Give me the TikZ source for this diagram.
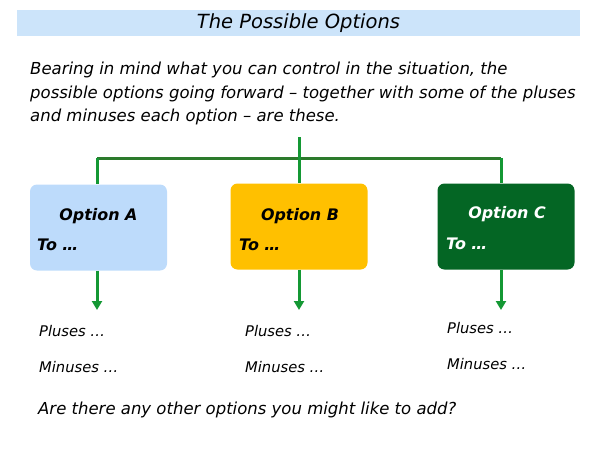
\documentclass[tikz,border=0pt]{standalone}
\usepackage{fontspec}
\setmainfont{DejaVu Sans}
\usetikzlibrary{arrows.meta}
\definecolor{titlebg}{RGB}{204,228,250}
\definecolor{boxA}{RGB}{189,219,251}
\definecolor{boxB}{RGB}{255,192,0}
\definecolor{boxC}{RGB}{4,102,36}
\definecolor{barg}{RGB}{44,122,44}
\definecolor{lineg}{RGB}{20,152,52}
\tikzset{
  optbox/.style={draw=none,rounded corners=7pt,minimum width=137pt,minimum height=86pt,inner sep=0pt},
  opttitle/.style={font=\fontsize{15.9}{19}\selectfont\bfseries\itshape,inner sep=0pt},
  bodytext/.style={font=\fontsize{16.5}{20}\selectfont\itshape,inner sep=0pt,anchor=west},
  smalltext/.style={font=\fontsize{14.7}{18}\selectfont\itshape,inner sep=0pt,anchor=west},
  conn/.style={draw=lineg,line width=3pt},
  arr/.style={draw=lineg,line width=3pt,-{Triangle[length=9pt,width=10pt]}},
}
\begin{document}
\begin{tikzpicture}[x=1pt,y=-1pt]
\useasboundingbox (0,0) rectangle (600,450);
% title
\node[fill=titlebg,minimum width=563pt,minimum height=26pt,inner sep=0pt] (titlebar) at (298.5,23) {};
\node[font=\fontsize{19.5}{23}\selectfont\itshape,inner sep=0pt] (title) at (298.5,23) {The Possible Options};
% paragraph
\node[bodytext] (p1) at (30,70) {Bearing in mind what you can control in the situation, the};
\node[bodytext] (p2) at (30,94) {possible options going forward -- together with some of the pluses};
\node[bodytext] (p3) at (30,117) {and minuses each option -- are these.};
% boxes
\node[optbox,fill=boxA] (A) at (98.5,227.5) {};
\node[optbox,fill=boxB] (B) at (299,226.5) {};
\node[optbox,fill=boxC] (C) at (506,226.5) {};
\node[opttitle] (At) at (98.5,216) {Option A};
\node[opttitle] (Bt) at (300,216) {Option B};
\node[opttitle,text=white] (Ct) at (507,214) {Option C};
\node[opttitle,anchor=west] (Ato) at (37,245) {To …};
\node[opttitle,anchor=west] (Bto) at (239,245) {To …};
\node[opttitle,anchor=west,text=white] (Cto) at (446,244) {To …};
% connectors
\coordinate (top) at (299,137);
\coordinate (barL) at (97,158);
\coordinate (barR) at (501,158);
\draw[draw=barg,line width=3pt] (barL) -- (barR);
\draw[conn] (top) -- (B.north);
\draw[conn] (barL) -- (barL |- A.north);
\draw[conn] (barR) -- (barR |- C.north);
% arrows
\coordinate (tA) at (97,310);
\coordinate (tB) at (299,310);
\coordinate (tC) at (501,310);
\draw[arr] (tA |- A.south) -- (tA);
\draw[arr] (tB |- B.south) -- (tB);
\draw[arr] (tC |- C.south) -- (tC);
% pluses minuses
\node[smalltext] (pa) at (39,331) {Pluses …};
\node[smalltext] (ma) at (39,367) {Minuses …};
\node[smalltext] (pb) at (245,331) {Pluses …};
\node[smalltext] (mb) at (245,367) {Minuses …};
\node[smalltext] (pc) at (447,328) {Pluses …};
\node[smalltext] (mc) at (447,364) {Minuses …};
\node[bodytext] (q) at (38,410) {Are there any other options you might like to add?};
\end{tikzpicture}
\end{document}
